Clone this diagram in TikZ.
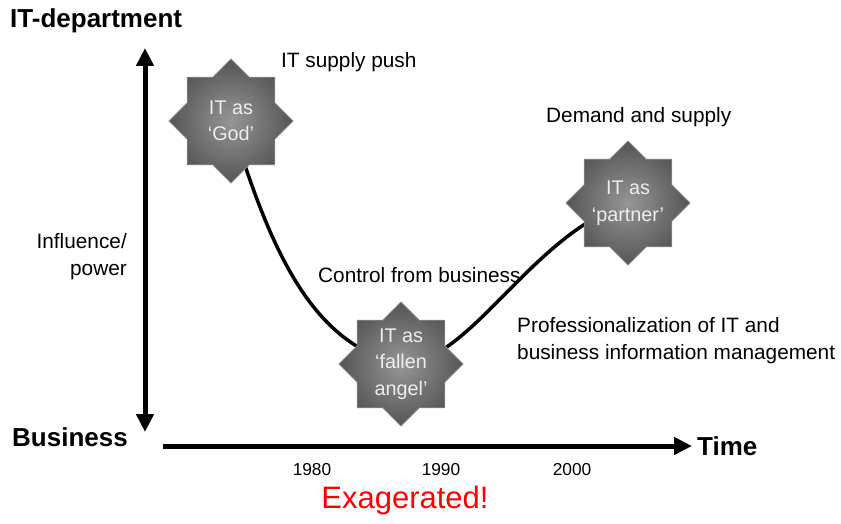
\documentclass[tikz,border=0pt]{standalone}
\usepackage{fontspec}
\setmainfont{Liberation Sans}
\usetikzlibrary{shapes.geometric,arrows.meta}
\definecolor{starout}{HTML}{555555}
\definecolor{starin}{HTML}{969696}
\definecolor{startext}{HTML}{EDEDED}
\definecolor{starline}{HTML}{8A8A8A}
\begin{document}
\begin{tikzpicture}[x=1pt,y=-1pt,
  lbl/.style={font=\fontsize{20.8}{27}\selectfont, inner sep=0pt},
  ttl/.style={font=\fontsize{26}{30}\selectfont\bfseries, inner sep=0pt},
  yr/.style={font=\fontsize{17.3}{20}\selectfont, inner sep=0pt, anchor=base},
  red/.style={font=\fontsize{31}{36}\selectfont, text=red, inner sep=0pt},
  startxt/.style={font=\fontsize{19.8}{26.5}\selectfont, text=startext, align=center, inner sep=0pt},
  starbox/.style={star, star points=8, star point ratio=1.307, minimum size=124pt,
    inner sep=0pt, draw=starline, line width=0.8pt, inner color=starin, outer color=starout},
  axis/.style={line width=5pt, {Triangle[length=18pt,width=17pt]}-{Triangle[length=18pt,width=17pt]}},
  axisone/.style={line width=5pt, -{Triangle[length=18pt,width=17pt]}},
  curve/.style={line width=3.5pt, black}
]
\useasboundingbox (0,0) rectangle (841,524);

% star positions
\coordinate (pg) at (231,121);
\coordinate (pf) at (401,364);
\coordinate (pp) at (628,203);

% curve behind stars
\draw[curve] (pg) .. controls (272,258) and (315,345) .. (pf)
                  .. controls (470,364) and (530,235) .. (pp);

% stars
\node[starbox] (god) at (pg) {};
\node[starbox] (fallen) at (pf) {};
\node[starbox] (partner) at (pp) {};
\node[startxt] (godtxt) at (god.center) {IT as\\‘God’};
\node[startxt] (fallentxt) at (fallen.center) {IT as\\‘fallen\\angel’};
\node[startxt] (partnertxt) at (partner.center) {IT as\\‘partner’};

% axes
\coordinate (vtop) at (145,48);
\coordinate (vbot) at (145,432);
\coordinate (hstart) at (163,446);
\coordinate (hend) at (692,446);
\draw[axis] (vtop) -- (vbot);
\draw[axisone] (hstart) -- (hend);

% titles
\node[ttl, anchor=base west] (itdep) at (10,27.5) {IT-department};
\node[ttl, anchor=base west] (business) at (12,446) {Business};
\node[ttl, anchor=base west] (time) at (697,455) {Time};

% labels
\node[lbl, anchor=base west] (push) at (281,67.5) {IT supply push};
\node[lbl, anchor=base west] (demand) at (546,123) {Demand and supply};
\node[lbl, anchor=north east, align=right] (influence) at (127,233) {Influence/\\power};
\node[lbl, anchor=base west] (control) at (318,282) {Control from business};
\node[lbl, anchor=north west, align=left] (prof) at (517,317) {Professionalization of IT and\\business information management};

% years
\node[yr] (y1980) at (312,475) {1980};
\node[yr] (y1990) at (441,475) {1990};
\node[yr] (y2000) at (572,475) {2000};

\node[red, anchor=base] (exag) at (405,508) {Exagerated!};
\end{tikzpicture}
\end{document}
